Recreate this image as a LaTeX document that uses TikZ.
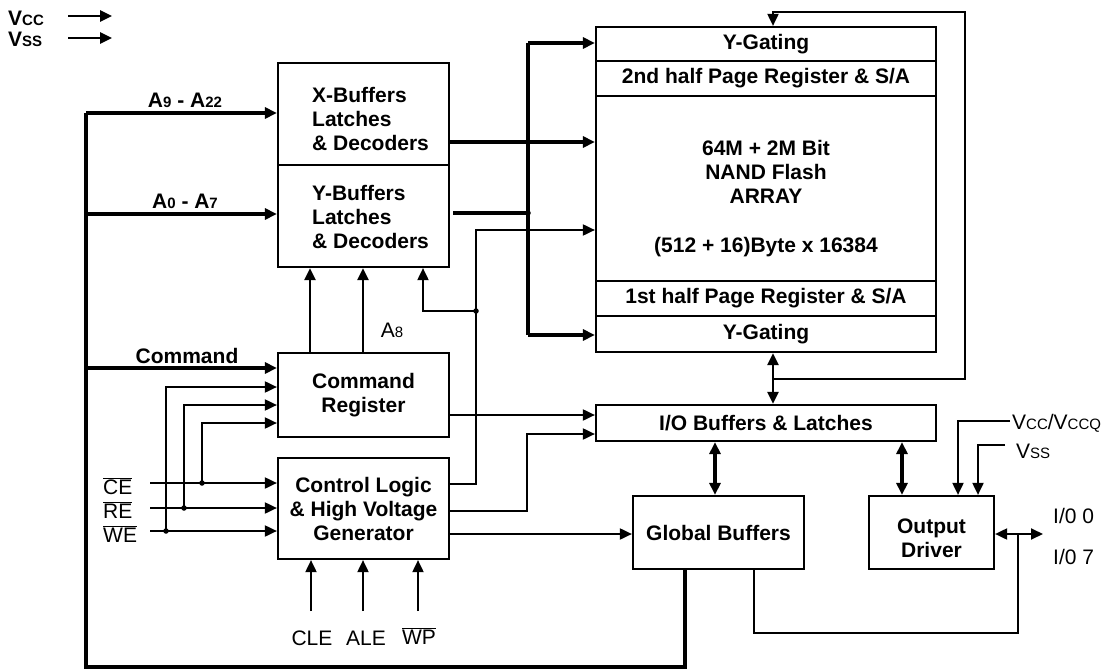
\documentclass[tikz,border=0pt]{standalone}
\usepackage{fontspec}
\setmainfont{Liberation Sans}
\usetikzlibrary{arrows.meta}
\newcommand\smc[1]{{\fontsize{15}{15}\selectfont #1}}
\newcommand\ovl[1]{$\overline{\hbox{#1}}$}
\begin{document}
\begin{tikzpicture}[x=1pt,y=-1pt, line join=miter,
  box/.style={draw, line width=2.2pt, inner sep=0pt, font=\bfseries\fontsize{21}{24}\selectfont, align=center},
  lbl/.style={inner sep=0pt, font=\fontsize{21}{24}\selectfont},
  blbl/.style={inner sep=0pt, font=\bfseries\fontsize{21}{24}\selectfont},
  thin/.style={line width=1.9pt},
  med/.style={line width=2.5pt},
  bus/.style={line width=3.1pt},
  arr/.style={-{Triangle[length=12pt,width=11pt]}},
  darr/.style={{Triangle[length=12pt,width=11pt]}-{Triangle[length=12pt,width=11pt]}},
  jdot/.style={circle, fill, inner sep=0pt, minimum size=5.5pt}]
\useasboundingbox (0,0) rectangle (1114,669);

% ---------- boxes ----------
\node[box, minimum width=171pt, minimum height=102pt] (XB) at (363.5,114) {};
\node[box, minimum width=171pt, minimum height=102pt] (YB) at (363.5,216) {};
\node[blbl, align=left, anchor=west] (xbt) at (312,118.5) {X-Buffers\\Latches\\\& Decoders};
\node[blbl, align=left, anchor=west] (ybt) at (312,216.5) {Y-Buffers\\Latches\\\& Decoders};
\node[box, minimum width=171pt, minimum height=84pt] (CR) at (363.5,395) {Command\\Register};
\node[box, minimum width=171pt, minimum height=101pt] (CL) at (363.5,508.5) {Control Logic\\\& High Voltage\\Generator};

\node[box, minimum width=340pt, minimum height=34pt] (YG1) at (766,44) {Y-Gating};
\node[box, minimum width=340pt, minimum height=35pt] (PR2) at (766,78.5) {2nd half Page Register \& S/A};
\node[box, minimum width=340pt, minimum height=185pt] (ARR) at (766,188.5) {};
\node[box, minimum width=340pt, minimum height=35pt] (PR1) at (766,298.5) {1st half Page Register \& S/A};
\node[box, minimum width=340pt, minimum height=36pt] (YG2) at (766,334) {Y-Gating};
\node[blbl, align=center] (arrtxt) at (766,172) {64M + 2M Bit\\NAND Flash\\ARRAY};
\node[blbl] (arrsize) at (766,247) {(512 + 16)Byte x 16384};

\node[box, minimum width=340pt, minimum height=36pt] (IO) at (766,423) {I/O Buffers \& Latches};
\node[box, minimum width=171pt, minimum height=73pt] (GB) at (718.5,532.5) {Global Buffers};
\node[box, minimum width=125pt, minimum height=73pt] (OD) at (931.5,532.5) {};
\node[blbl, align=center] (odt) at (931.5,538) {Output\\Driver};

% ---------- labels ----------
\node[blbl, anchor=west] (vcct) at (8,18) {V\smc{CC}};
\node[blbl, anchor=west] (vsst) at (8,39) {V\smc{SS}};
\node[blbl] (a922) at (185,100) {A\smc{9} - A\smc{22}};
\node[blbl] (a07) at (185,201) {A\smc{0} - A\smc{7}};
\node[blbl] (cmdt) at (187,356) {Command};
\node[lbl] (a8t) at (392,330) {A\smc{8}};
\node[lbl, anchor=west] (cet) at (103,486) {\ovl{CE}};
\node[lbl, anchor=west] (ret) at (103,510) {\ovl{RE}};
\node[lbl, anchor=west] (wet) at (103,534) {\ovl{WE}};
\node[lbl] (clet) at (312,638) {CLE};
\node[lbl] (alet) at (366,638) {ALE};
\node[lbl] (wpt) at (419,636) {\ovl{WP}};
\node[lbl, anchor=west] (vccqt) at (1012,423) {V\smc{CC}/V\smc{CCQ}};
\node[lbl, anchor=west] (vssr) at (1016,451) {V\smc{SS}};
\node[lbl, anchor=west] (io0) at (1053,516) {I/0 0};
\node[lbl, anchor=west] (io7) at (1053,557) {I/0 7};

% ---------- coordinates ----------
\coordinate (vc1) at (68,16);  \coordinate (vc2) at (112,16);
\coordinate (vs1) at (68,38);  \coordinate (vs2) at (112,38);
\coordinate (L1) at (86,113);
\coordinate (L2) at (86,214);
\coordinate (L3) at (86,368);
\coordinate (LB) at (86,667);
\coordinate (GBL) at (685,667);
\coordinate (B1) at (528,43);
\coordinate (B2) at (528,335);
\coordinate (BJ) at (528,213);
\coordinate (xo) at (0,142);
\coordinate (V1) at (476,484);
\coordinate (V2) at (476,230);
\coordinate (VJ) at (476,311);
\coordinate (V3) at (423,311);
\coordinate (p1) at (310,0);
\coordinate (p2) at (363,0);
\coordinate (ce) at (150,483);  \coordinate (cej) at (202,483); \coordinate (cer) at (202,423);
\coordinate (re) at (150,508);  \coordinate (rej) at (184,508); \coordinate (rer) at (184,405);
\coordinate (we) at (150,531);  \coordinate (wej) at (166,531); \coordinate (wer) at (166,387);
\coordinate (cro) at (0,415);
\coordinate (k1) at (527,511);
\coordinate (k2) at (527,434);
\coordinate (g) at (0,534);
\coordinate (cle) at (311,611);
\coordinate (ale) at (363,611);
\coordinate (wp) at (418,611);
\coordinate (m) at (773,0);
\coordinate (f1) at (773,379);
\coordinate (f2) at (965,379);
\coordinate (f3) at (965,12);
\coordinate (f4) at (773,12);
\coordinate (q1) at (715,0);
\coordinate (q2) at (902,0);
\coordinate (vq1) at (1010,421); \coordinate (vq2) at (958,421);
\coordinate (vs3) at (1005,445); \coordinate (vs4) at (978,445);
\coordinate (od) at (1043,534);
\coordinate (odj) at (1018,534);
\coordinate (od2) at (1018,633);
\coordinate (od3) at (754,633);

% ---------- connectors ----------
\draw[med,arr] (vc1) -- (vc2);
\draw[med,arr] (vs1) -- (vs2);

\draw[bus,arr] (L1) -- (L1 -| XB.west);
\draw[bus,arr] (L2) -- (L2 -| YB.west);
\draw[bus,arr] (L3) -- (L3 -| CR.west);
\draw[bus] (GB.south -| GBL) -- (GBL) -- (LB) -- (L1);

\draw[bus,arr] (xo -| XB.east) -- (xo -| ARR.west);
\draw[bus] ([xshift=3pt]BJ -| YB.east) -- (BJ);
\node[jdot] (bjd) at (BJ) {};
\draw[bus,arr] (B1) -- (B1 -| YG1.west);
\draw[bus] (B1) -- (B2);
\draw[bus,arr] (B2) -- (B2 -| YG2.west);

\draw[thin,arr] (V1 -| CL.east) -- (V1) -- (V2) -- (V2 -| ARR.west);
\draw[thin,arr] (VJ) -- (V3) -- (V3 |- YB.south);
\node[jdot] (vjd) at (VJ) {};

\draw[med,arr] (p1 |- CR.north) -- (p1 |- YB.south);
\draw[med,arr] (p2 |- CR.north) -- (p2 |- YB.south);

\draw[thin,arr] (ce) -- (ce -| CL.west);
\draw[thin,arr] (re) -- (re -| CL.west);
\draw[thin,arr] (we) -- (we -| CL.west);
\draw[thin,arr] (cej) -- (cer) -- (cer -| CR.west);
\draw[thin,arr] (rej) -- (rer) -- (rer -| CR.west);
\draw[thin,arr] (wej) -- (wer) -- (wer -| CR.west);
\node[jdot] (cejd) at (cej) {};
\node[jdot] (rejd) at (rej) {};
\node[jdot] (wejd) at (wej) {};

\draw[thin,arr] (cro -| CR.east) -- (cro -| IO.west);
\draw[thin,arr] (k1 -| CL.east) -- (k1) -- (k2) -- (k2 -| IO.west);
\draw[thin,arr] (g -| CL.east) -- (g -| GB.west);

\draw[thin,arr] (cle) -- (cle |- CL.south);
\draw[thin,arr] (ale) -- (ale |- CL.south);
\draw[thin,arr] (wp) -- (wp |- CL.south);

\draw[med,darr] (m |- YG2.south) -- (m |- IO.north);
\draw[thin,arr] (f1) -- (f2) -- (f3) -- (f4) -- (f4 |- YG1.north);

\draw[bus,darr] (q1 |- IO.south) -- (q1 |- GB.north);
\draw[bus,darr] (q2 |- IO.south) -- (q2 |- OD.north);

\draw[thin,arr] (vq1) -- (vq2) -- (vq2 |- OD.north);
\draw[thin,arr] (vs3) -- (vs4) -- (vs4 |- OD.north);

\draw[thin,darr] (od -| OD.east) -- (od);
\draw[thin] (odj) -- (od2) -- (od3) -- (od3 |- GB.south);
\end{tikzpicture}
\end{document}
